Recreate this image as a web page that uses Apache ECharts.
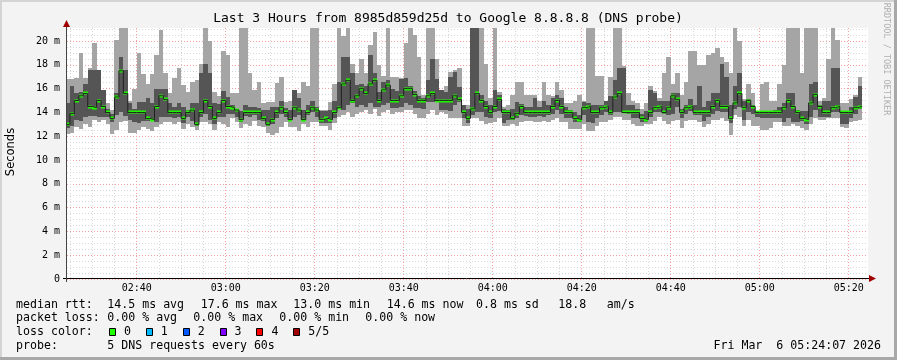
<!DOCTYPE html>
<html><head><meta charset="utf-8">
<script src="https://cdn.jsdelivr.net/npm/echarts@6/dist/echarts.min.js"></script>
<style>html,body{margin:0;padding:0;background:#f3f3f3}#c{width:897px;height:360px}</style>
</head><body><div id="c"></div><script>
// one step per minute, first step starts 02:24 (minutes since midnight)
const firstStepMinute = 144;
const axisStartMinute = 144.34;
const axisEndMinute = 324.34;

const pingMedian = [
 13.0,13.9,15.0,15.4,15.6,14.5,14.4,15.0,14.5,14.0,13.5,15.3,17.5,15.6,14.0,14.0,14.0,14.0,13.5,13.4,14.5,15.4,15.1,14.0,14.0,14.0,13.5,14.0,14.2,13.0,14.0,15.0,14.5,13.5,14.0,15.0,14.5,
 14.4,14.2,13.4,14.0,14.0,14.0,14.0,13.5,13.0,13.4,14.0,14.4,14.0,13.4,14.4,14.2,13.4,14.0,14.4,14.2,13.4,13.5,13.4,14.0,14.4,16.4,16.7,15.0,15.4,16.0,15.6,16.4,16.7,15.0,15.9,16.3,
 15.0,15.0,15.4,16.0,16.0,15.5,15.0,15.0,15.4,15.6,15.0,15.0,15.0,15.0,15.4,15.1,14.0,13.5,14.3,15.6,15.0,14.5,14.0,14.5,15.1,14.0,14.0,13.5,13.9,14.5,14.0,14.0,14.0,14.0,14.0,14.0,14.5,15.0,
 14.5,14.0,14.0,13.5,13.4,14.4,14.5,14.0,14.0,14.4,14.5,14.0,15.3,15.6,14.0,14.0,14.0,14.0,13.5,13.4,14.0,14.4,14.5,14.0,14.4,15.4,15.1,14.0,14.4,14.5,14.0,14.0,14.0,14.0,14.5,15.0,14.5,
 14.5,13.5,14.8,15.6,14.4,15.0,14.5,14.0,14.0,14.0,14.0,14.0,14.0,14.4,15.0,14.5,14.0,13.5,13.4,14.8,15.5,14.5,14.0,14.0,14.4,14.5,14.0,14.0,14.0,14.4,14.5
];
const pingMin = [
 12.2,12.3,12.8,12.6,13.0,12.8,13.4,13.2,13.4,13.0,12.2,12.5,13.2,13.3,12.3,12.3,12.5,12.8,12.6,12.4,12.8,13.0,13.2,13.2,13.0,13.2,12.6,13.0,12.8,12.5,13.2,13.2,13.0,12.5,13.2,13.0,12.8,
 13.5,13.2,12.7,13.0,12.9,13.3,12.9,12.8,12.3,12.1,12.3,12.8,13.2,12.8,12.8,12.4,13.0,12.8,13.2,13.2,12.9,12.9,12.5,13.1,13.6,13.8,14.0,13.6,13.9,14.0,14.2,13.9,14.3,13.7,14.0,14.2,
 13.9,14.0,14.0,14.2,14.2,13.9,13.5,13.5,13.9,14.2,13.8,14.0,13.9,13.5,13.5,13.5,12.9,12.9,13.5,13.5,13.3,13.0,13.1,13.2,13.5,12.9,12.9,13.0,12.9,13.2,13.3,13.3,13.2,13.2,13.3,13.2,13.4,13.5,
 13.2,13.2,12.6,12.6,12.6,13.0,12.4,12.4,12.9,13.2,13.2,13.4,13.6,13.6,13.4,13.4,13.0,12.9,12.9,13.0,13.0,13.3,13.6,13.3,13.0,13.3,13.4,12.7,13.3,13.4,13.4,13.2,12.8,13.0,13.4,13.4,13.5,
 13.3,12.1,13.8,13.6,12.9,13.4,12.9,12.9,12.5,12.5,12.7,13.2,13.2,12.9,12.9,13.0,12.9,12.7,12.5,13.0,13.5,13.4,13.4,13.5,13.5,13.5,12.8,12.7,13.2,13.3,13.4
];
const ping2 = [
 12.7,12.9,13.4,13.3,13.6,13.7,13.7,13.6,13.6,13.6,13.2,13.8,14.0,13.7,13.4,13.2,13.1,13.3,13.3,13.3,13.2,13.6,13.6,13.6,13.5,13.6,13.1,13.6,13.3,12.9,13.6,13.9,13.4,13.0,13.6,13.6,13.9,
 13.9,13.6,13.2,13.7,13.6,13.8,13.4,13.3,12.9,13.0,13.5,13.9,13.6,13.3,13.6,13.8,13.3,13.8,14.0,13.6,13.1,13.1,13.1,13.5,14.3,14.2,14.6,14.8,14.5,14.6,14.5,14.8,14.5,14.5,14.6,14.8,
 14.4,14.4,14.5,14.8,14.6,14.4,14.4,14.3,14.9,14.9,14.9,14.2,14.2,14.1,14.6,14.9,13.5,13.1,13.8,14.0,14.0,13.6,13.5,14.0,14.1,13.1,13.4,13.4,13.5,13.8,13.7,13.6,13.6,13.7,13.6,13.8,13.9,14.2,
 13.9,13.5,13.5,13.2,13.2,13.8,13.2,13.1,13.5,13.8,14.0,13.8,14.0,14.0,14.0,13.9,13.5,13.5,13.2,13.2,13.6,14.0,14.0,13.9,13.8,13.9,14.5,13.5,13.9,14.1,13.8,13.8,13.3,13.6,13.9,14.1,14.0,
 14.0,13.1,14.3,14.5,13.4,14.0,13.9,13.6,13.5,13.5,13.5,13.5,13.5,13.2,13.5,13.2,13.2,13.3,13.0,13.6,14.2,13.6,13.6,13.6,14.0,14.0,13.0,13.0,13.5,13.9,14.3
];
const ping4 = [
 14.8,16.2,15.6,15.7,16.4,17.6,17.6,17.6,15.9,14.3,13.9,15.6,18.7,17.6,14.8,14.3,14.9,14.9,15.2,14.8,16.0,16.0,16.0,14.8,14.5,14.8,14.5,14.2,14.8,14.8,17.3,18.1,17.3,14.8,14.7,15.8,15.3,
 14.6,14.3,14.1,14.6,14.5,14.5,14.4,14.2,14.2,14.5,14.5,15.0,14.4,14.2,15.9,15.2,14.2,14.6,15.0,14.5,14.1,14.1,14.2,15.0,16.6,18.7,18.7,17.3,16.3,16.4,16.2,18.8,17.3,15.7,16.6,16.7,
 16.0,15.8,16.8,16.9,16.2,15.8,15.4,15.2,16.7,18.5,16.8,15.9,15.7,17.0,17.4,16.1,14.6,14.3,21.5,21.5,15.5,15.0,14.6,15.9,15.5,14.3,14.2,14.3,14.9,14.7,14.5,14.5,15.2,14.5,15.0,14.6,15.2,15.5,
 15.2,14.5,14.2,14.0,13.8,14.9,14.8,14.6,14.6,14.6,15.0,15.4,16.7,17.7,17.7,14.6,14.6,14.3,13.9,14.1,15.9,15.6,15.0,15.0,15.0,15.6,15.6,14.3,14.6,15.1,14.6,16.2,14.5,15.0,15.6,15.6,18.1,
 17.0,14.6,16.2,17.3,15.0,15.1,14.6,14.1,14.1,14.1,14.1,14.2,14.5,14.8,15.6,15.6,14.2,14.1,14.1,16.4,16.6,14.6,15.0,15.0,17.7,17.7,14.1,14.1,14.5,15.3,16.2
];
const pingMax = [
 16.8,16.8,16.9,19.0,16.9,17.7,19.8,17.6,15.9,14.8,14.2,20.1,21.5,21.5,15.0,16.0,19.0,17.2,16.4,17.2,18.8,20.9,17.3,15.6,16.9,17.7,16.3,15.7,16.6,16.7,18.1,21.5,20.0,15.7,15.4,19.2,18.8,
 15.6,15.6,21.5,21.5,17.3,15.9,16.6,14.8,14.9,14.9,16.5,17.0,14.9,15.0,15.9,15.6,16.6,16.2,21.5,21.5,14.2,14.2,14.9,16.4,21.5,20.4,21.5,18.1,17.3,18.5,17.3,19.7,20.8,18.0,17.1,21.5,
 17.0,17.0,16.9,19.8,21.5,20.5,18.7,15.5,21.5,21.5,18.5,15.9,16.2,17.4,17.6,17.7,14.6,14.6,21.5,21.5,21.5,18.1,15.2,21.5,15.7,14.5,14.6,15.5,16.6,16.6,15.5,15.5,15.5,15.0,16.6,15.5,15.4,16.6,
 15.9,14.8,14.8,15.0,15.5,15.0,21.5,21.5,17.1,17.1,15.0,17.0,21.5,21.5,17.9,15.6,15.0,14.8,14.3,14.8,16.2,15.8,15.2,17.3,18.7,16.4,17.3,15.5,16.6,19.2,19.2,18.0,18.0,18.8,19.0,19.4,18.7,
 18.2,17.3,21.5,20.0,15.1,16.4,15.6,14.1,16.4,16.6,15.0,15.0,16.4,18.0,21.5,21.5,21.5,17.3,21.5,21.5,21.5,15.0,15.2,18.5,21.5,20.1,14.8,14.8,15.1,15.5,17.0
];

const timeLabelMinutes = [160,180,200,220,240,260,280,300,320];
const minorGridMinutes = [145,150,155,160,165,170,175,180,185,190,195,200,205,210,215,220,225,230,235,240,245,250,255,260,265,270,275,280,285,290,295,300,305,310,315,320];
const yTickValues = [0,2,4,6,8,10,12,14,16,18,20];
const yMinorValues = [0.5,1,1.5,2,2.5,3,3.5,4,4.5,5,5.5,6,6.5,7,7.5,8,8.5,9,9.5,10,10.5,11,11.5,12,12.5,13,13.5,14,14.5,15,15.5,16,16.5,17,17.5,18,18.5,19,19.5,20,20.5,21];

const titleText = 'Last 3 Hours from 8985d859d25d to Google 8.8.8.8 (DNS probe)';
const lossLabels = ['0','1','2','3','4','5/5'];
const lossColors = ['#20ff00','#00b8ff','#0059ff','#7e00ff','#ff0000','#a10000'];

const smokeData = pingMedian.map((m, i) => [firstStepMinute + i, pingMin[i], ping2[i], m, ping4[i], pingMax[i]]);
const medianLine = pingMedian.map((m, i) => [firstStepMinute + i, m]);
medianLine.push([firstStepMinute + pingMedian.length, pingMedian[pingMedian.length - 1]]);
const medianBand = pingMedian.map((m, i) => [firstStepMinute + i, m]);

const mono = 'DejaVu Sans Mono';
function hhmm(v){const h=Math.floor(v/60),m=Math.round(v%60);return String(h).padStart(2,'0')+':'+String(m).padStart(2,'0');}

function boxOf(params){const cs=params.coordSys;return {x:cs.x,y:cs.y,width:cs.width,height:cs.height};}
function stepRect(api, box, t, v1, v2){
  const a = api.coord([t, v2]), b = api.coord([t + 1, v1]);
  const x0 = Math.round(a[0]), x1 = Math.round(b[0]);
  const y0 = Math.round(a[1]), y1 = Math.round(b[1]);
  return echarts.graphic.clipRectByRect({x:x0, y:y0, width:x1-x0, height:y1-y0}, box);
}
function renderSmoke(params, api){
  const box = boxOf(params);
  const t = api.value(0);
  const outer = stepRect(api, box, t, api.value(1), api.value(5));
  const inner = stepRect(api, box, t, api.value(2), api.value(4));
  const ch = [];
  if (outer) ch.push({type:'rect', shape:outer, style:{fill:'#a5a5a5'}});
  if (inner) ch.push({type:'rect', shape:inner, style:{fill:'#555555'}});
  return {type:'group', children:ch};
}
function renderMedian(params, api){
  const box = boxOf(params);
  const t = api.value(0), m = api.value(1);
  const a = api.coord([t, m]), b = api.coord([t + 1, m]);
  const x0 = Math.round(a[0]), x1 = Math.round(b[0]);
  const y = Math.round(a[1]) - 1;
  const r = echarts.graphic.clipRectByRect({x:x0, y:y - 0.5, width:x1-x0, height:3}, box);
  return r ? {type:'rect', shape:r, style:{fill:lossColors[0]}} : null;
}

const legendRows = [
  {y:304.5, items:[[16,'median rtt:'],[107.3,'14.5 ms avg'],[200.7,'17.6 ms max'],[293.3,'13.0 ms min'],[386.7,'14.6 ms now'],[476,'0.8 ms sd'],[558.3,'18.8'],[606.7,'am/s']]},
  {y:318, items:[[16,'packet loss:'],[107.3,'0.00 % avg'],[193.3,'0.00 % max'],[279.3,'0.00 % min'],[365.3,'0.00 % now']]},
  {y:332.3, items:[[16,'loss color:']]},
  {y:346, items:[[16,'probe:'],[107.3,'5 DNS requests every 60s']]}
];
const graphics = [
  {type:'rect', shape:{x:0,y:0,width:897,height:2}, style:{fill:'#d4d4d4'}, z:-1},
  {type:'rect', shape:{x:0,y:0,width:2,height:360}, style:{fill:'#d4d4d4'}, z:-1},
  {type:'rect', shape:{x:0,y:357,width:897,height:3}, style:{fill:'#a8a8a8'}},
  {type:'rect', shape:{x:894,y:0,width:3,height:360}, style:{fill:'#a8a8a8'}},
  {type:'text', x:448, y:19, style:{text:titleText, font:'13px '+mono, fill:'#000', textAlign:'center', textVerticalAlign:'middle'}},
  {type:'text', x:11, y:152, rotation:Math.PI/2, style:{text:'Seconds', font:'11.5px "DejaVu Sans"', fill:'#000', textAlign:'center', textVerticalAlign:'middle'}},
  {type:'text', x:886, y:59, rotation:-Math.PI/2, style:{text:'RRDTOOL / TOBI OETIKER', font:'8.5px '+mono, fill:'#b0b0b0', textAlign:'center', textVerticalAlign:'middle'}},
  {type:'line', shape:{x1:63,y1:278.5,x2:870,y2:278.5}, style:{stroke:'#000', lineWidth:1}, z:50},
  {type:'line', shape:{x1:66.5,y1:282,x2:66.5,y2:26}, style:{stroke:'#444', lineWidth:1}, z:50},
  {type:'polygon', shape:{points:[[876,278.5],[869,275],[869,282]]}, style:{fill:'#a00000'}, z:51},
  {type:'polygon', shape:{points:[[66.5,20],[63,27],[70,27]]}, style:{fill:'#a00000'}, z:51},
  {type:'text', x:881, y:346, style:{text:'Fri Mar  6 05:24:07 2026', font:'11.6px '+mono, fill:'#000', textAlign:'right', textVerticalAlign:'middle'}}
];
legendRows.forEach(r => r.items.forEach(([x, s]) => graphics.push({type:'text', x:x, y:r.y, style:{text:s, font:'11.6px '+mono, fill:'#000', textVerticalAlign:'middle'}})));
lossLabels.forEach((lab, i) => {
  const x = 109 + i * 36.85;
  graphics.push({type:'rect', shape:{x:Math.round(x)+0.5, y:328.5, width:6, height:7}, style:{fill:lossColors[i], stroke:'#000', lineWidth:1}});
  graphics.push({type:'text', x:x + 15, y:332.3, style:{text:lab, font:'11.6px '+mono, fill:'#000', textVerticalAlign:'middle'}});
});

const grid = {left:67, top:28, width:801, height:251, show:true, backgroundColor:'#ffffff', borderWidth:0};
const chart = echarts.init(document.getElementById('c'), null, {renderer:'canvas'});
chart.setOption({
  animation:false,
  backgroundColor:'#f3f3f3',
  grid:grid,
  xAxis:[
    {type:'value', min:axisStartMinute, max:axisEndMinute, axisLine:{show:false},
     axisTick:{show:false, customValues:minorGridMinutes},
     axisLabel:{show:true, customValues:timeLabelMinutes, formatter:hhmm, color:'#000', fontFamily:mono, fontSize:10, margin:4},
     splitLine:{show:true, lineStyle:{color:'#d8d8d8', width:1, type:[1,2]}}},
    {type:'value', min:axisStartMinute, max:axisEndMinute, axisLine:{show:false},
     axisTick:{show:false, customValues:timeLabelMinutes}, axisLabel:{show:false},
     splitLine:{show:true, lineStyle:{color:'#f4a0a0', width:1, type:[1,2]}}}
  ],
  yAxis:[
    {type:'value', min:0, max:21.1, axisLine:{show:false},
     axisTick:{show:false, customValues:yMinorValues}, axisLabel:{show:false},
     splitLine:{show:true, lineStyle:{color:'#d8d8d8', width:1, type:[1,2]}}},
    {type:'value', min:0, max:21.1, position:'left', axisLine:{show:false},
     axisTick:{show:false, customValues:yTickValues},
     axisLabel:{show:true, customValues:yTickValues, formatter:v => v === 0 ? '0' : v + ' m', color:'#000', fontFamily:mono, fontSize:10, margin:7},
     splitLine:{show:true, lineStyle:{color:'#f4a0a0', width:1, type:[1,2]}}}
  ],
  series:[
    {type:'custom', name:'smoke', xAxisIndex:0, yAxisIndex:0, renderItem:renderSmoke, data:smokeData, encode:{x:0, y:[1,5]}, clip:true, silent:true},
    {type:'line', name:'median', xAxisIndex:0, yAxisIndex:0, data:medianLine, step:'end', symbol:'none', lineStyle:{color:'#202020', width:1}, clip:true, silent:true},
    {type:'custom', name:'median loss color', xAxisIndex:0, yAxisIndex:0, renderItem:renderMedian, data:medianBand, encode:{x:0, y:1}, clip:true, silent:true}
  ],
  graphic:graphics
});
</script></body></html>
